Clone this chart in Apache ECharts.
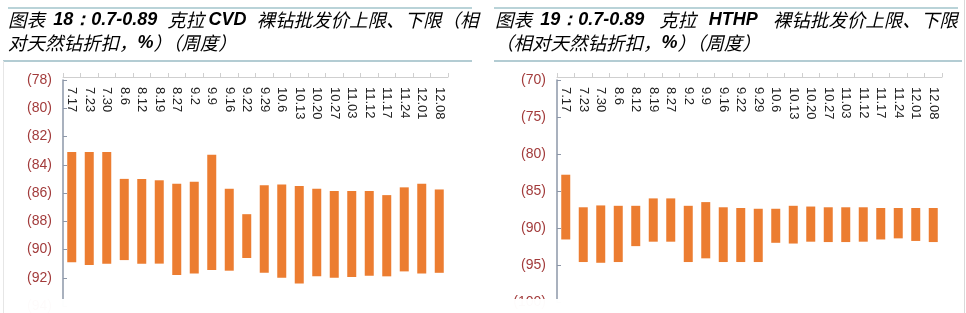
<!DOCTYPE html>
<html>
<head>
<meta charset="utf-8">
<script src="https://cdn.jsdelivr.net/npm/echarts@6/dist/echarts.min.js"></script>
<style>
html,body{margin:0;padding:0;background:#fff;}
#c{width:966px;height:313px;}
</style>
</head>
<body>
<div id="c"></div>
<script>
const categories = ['7.17','7.23','7.30','8.6','8.12','8.19','8.27','9.2','9.9','9.16','9.22','9.29','10.6','10.13','10.20','10.27','11.03','11.12','11.17','11.24','12.01','12.08'];
const cvdUpper = [83.1,83.1,83.1,85.0,85.0,85.1,85.35,85.2,83.3,85.7,87.5,85.45,85.4,85.5,85.7,85.85,85.85,85.85,86.15,85.6,85.35,85.75];
const cvdLower = [90.9,91.1,91.0,90.75,91.0,91.0,91.8,91.7,91.45,91.5,90.6,91.65,92.0,92.4,91.9,92.0,91.95,91.85,91.9,91.55,91.7,91.65];
const hthpUpper = [82.8,87.2,86.95,87.0,87.0,86.0,86.0,87.0,86.5,87.2,87.3,87.4,87.4,87.0,87.1,87.2,87.2,87.2,87.3,87.3,87.3,87.3];
const hthpLower = [91.55,94.6,94.7,94.6,92.45,91.85,91.85,94.6,94.1,94.6,94.6,94.6,92.0,92.1,91.85,91.9,91.9,91.85,91.55,91.4,91.75,91.9];

const orange = '#EC7D31';
const cjk = '"Noto Sans CJK SC", sans-serif';
const latin = '"Liberation Sans", Arial, sans-serif';

function rangeData(up, lo){ return lo.map((v,i)=> +(v - up[i]).toFixed(2)); }

function xAxisCfg(idx){
  return {
    gridIndex: idx, type: 'category', data: categories, position: 'top', offset: 3,
    axisLine: {show: true, lineStyle: {color: '#cfcfcf', width: 1}},
    axisTick: {show: true, length: 4, lineStyle: {color: '#cfcfcf'}},
    axisLabel: {inside: true, rotate: 90, margin: 10, color: '#222', fontSize: 13, fontFamily: latin, interval: 0, align: 'left', verticalAlign: 'middle'},
    splitLine: {show: false}
  };
}
function yAxisCfg(idx, min, max, interval){
  return {
    gridIndex: idx, type: 'value', inverse: true, min: min, max: max, interval: interval,
    axisLine: {show: true, lineStyle: {color: '#8d97a8', width: 1.5}},
    axisTick: {show: true, inside: true, length: 4, lineStyle: {color: '#8d97a8'}},
    axisLabel: {color: '#A23B3B', fontSize: 14, fontFamily: latin, margin: 11, formatter: v => '(' + v + ')'},
    splitLine: {show: false}
  };
}

const titleRich = {
  c: {fontFamily: cjk, fontStyle: 'italic', fontSize: 18.5, color: '#1a1a1a'},
  b: {fontFamily: latin, fontStyle: 'italic', fontWeight: 'bold', fontSize: 18, color: '#1a1a1a'}
};

const chart = echarts.init(document.getElementById('c'), null, {renderer: 'canvas'});
chart.setOption({
  backgroundColor: '#ffffff',
  animation: false,
  grid: [
    {left: 63, right: 518, top: 80, bottom: 7, containLabel: false},
    {left: 557, right: 24, top: 80, bottom: 11, containLabel: false}
  ],
  xAxis: [xAxisCfg(0), xAxisCfg(1)],
  yAxis: [yAxisCfg(0, 78, 94, 2), yAxisCfg(1, 70, 100, 5)],
  series: [
    {type: 'bar', xAxisIndex: 0, yAxisIndex: 0, stack: 'a', data: cvdUpper, barWidth: 9, itemStyle: {color: 'transparent'}, silent: true},
    {type: 'bar', xAxisIndex: 0, yAxisIndex: 0, stack: 'a', data: rangeData(cvdUpper, cvdLower), barWidth: 9, itemStyle: {color: orange}},
    {type: 'bar', xAxisIndex: 1, yAxisIndex: 1, stack: 'b', data: hthpUpper, barWidth: 9, itemStyle: {color: 'transparent'}, silent: true},
    {type: 'bar', xAxisIndex: 1, yAxisIndex: 1, stack: 'b', data: rangeData(hthpUpper, hthpLower), barWidth: 9, itemStyle: {color: orange}}
  ],
  graphic: [
    {type: 'line', shape: {x1: 8, y1: 8, x2: 472, y2: 8}, style: {stroke: '#b9d3d8', lineWidth: 2}},
    {type: 'line', shape: {x1: 3, y1: 61, x2: 472, y2: 61}, style: {stroke: '#b3ccd3', lineWidth: 2}},
    {type: 'line', shape: {x1: 494, y1: 8, x2: 958, y2: 8}, style: {stroke: '#b9d3d8', lineWidth: 2}},
    {type: 'line', shape: {x1: 494, y1: 61, x2: 962, y2: 61}, style: {stroke: '#b3ccd3', lineWidth: 2}},
    {type: 'line', shape: {x1: 3.5, y1: 61, x2: 3.5, y2: 313}, style: {stroke: '#e6e6e6', lineWidth: 1}},
    {type: 'line', shape: {x1: 964.5, y1: 0, x2: 964.5, y2: 313}, style: {stroke: '#d9d9d9', lineWidth: 1}},
    {type: 'text', left: 8, top: 11, style: {text: '{c|图表  }{b|18：0.7-0.89  }{c|克拉 }{b|CVD  }{c|裸钻批发价上限、下限（相}', rich: titleRich}},
    {type: 'text', left: 8, top: 34, style: {text: '{c|对天然钻折扣，}{b|%}{c|）（周度）}', rich: titleRich}},
    {type: 'text', left: 495, top: 11, style: {text: '{c|图表  }{b|19：0.7-0.89   }{c|克拉   }{b|HTHP   }{c|裸钻批发价上限、下限}', rich: titleRich}},
    {type: 'text', left: 495, top: 34, style: {text: '{c|（相对天然钻折扣，}{b|%}{c|）（周度）}', rich: titleRich}},
    {type: 'rect', z: 100, shape: {x: 5, y: 299, width: 958, height: 14}, style: {fill: 'rgba(255,255,255,0.98)'}}
  ]
});
</script>
</body>
</html>
